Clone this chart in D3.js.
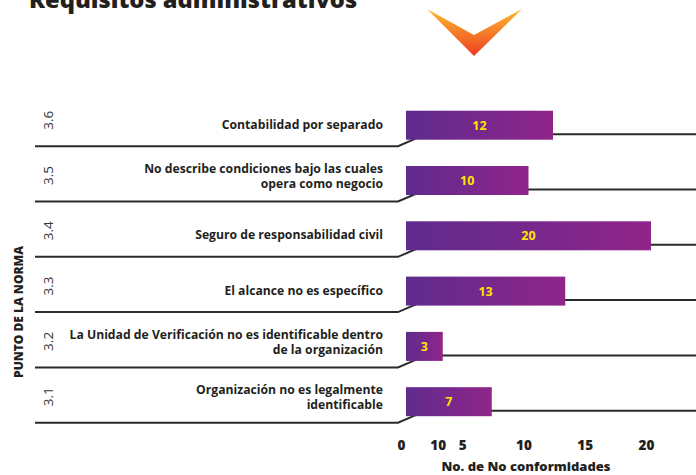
<!DOCTYPE html>
<html>
<head>
<meta charset="utf-8">
<script src="https://cdn.jsdelivr.net/npm/d3@7"></script>
<style>
  html, body { margin: 0; padding: 0; background: #fff; }
  svg { display: block; }
</style>
</head>
<body>
<svg id="chart" width="696" height="475"></svg>
<script>
// norm points, top to bottom
const codes = ["3.6", "3.5", "3.4", "3.3", "3.2", "3.1"];
const labels = [
  "Contabilidad por separado",
  "No describe condiciones bajo las cuales\nopera como negocio",
  "Seguro de responsabilidad civil",
  "El alcance no es específico",
  "La Unidad de Verificación no es identificable dentro\nde la organización",
  "Organización no es legalmente\nidentificable"
];
const values = [12, 10, 20, 13, 3, 7];
// the printed axis really reads 0 10 5 10 15 20
const tickValues = [0, 3, 5, 10, 15, 20];
const tickLabels = ["0", "10", "5", "10", "15", "20"];

const W = 696, H = 475;
const svg = d3.select("#chart");
const ink = "#231f20";
const font = "'Open Sans', Lato, sans-serif";

const rows = codes.map((c, i) => ({code: c, label: labels[i], value: values[i]}));

const x = d3.scaleLinear().domain([0, 20]).range([406, 651]);
const y = d3.scalePoint().domain(codes).range([125.2, 401.7]);
const barH = 29;

const defs = svg.append("defs");
const grad = defs.append("linearGradient").attr("id", "barGrad");
grad.append("stop").attr("offset", "0%").attr("stop-color", "#5e2b8d");
grad.append("stop").attr("offset", "100%").attr("stop-color", "#90258a");

const chev = defs.append("linearGradient").attr("id", "chevGrad")
  .attr("x1", 0).attr("y1", 0).attr("x2", 0).attr("y2", 1);
chev.append("stop").attr("offset", "0%").attr("stop-color", "#fdbb30");
chev.append("stop").attr("offset", "100%").attr("stop-color", "#ee3d23");

// title, cut off by the top edge as in the source
svg.append("text")
  .attr("x", 29).attr("y", 8)
  .attr("font-family", font).attr("font-weight", 800)
  .attr("font-size", 23.7).attr("fill", ink)
  .text("Requisitos administrativos");

// chevron ornament
svg.append("path")
  .attr("d", "M427,9 L474,56 L522,9 L474,35 Z")
  .attr("fill", "url(#chevGrad)");

// row rules: left run, slanted step, right run behind the bar
const line = d3.line();
svg.append("g").selectAll("path")
  .data(rows).join("path")
  .attr("d", d => {
    const c = y(d.code);
    return line([[35, c + 21], [398, c + 21], [426, c + 9], [W, c + 9]]);
  })
  .attr("fill", "none").attr("stroke", "#2b2b2b").attr("stroke-width", 2);

// bars
svg.append("g").selectAll("rect")
  .data(rows).join("rect")
  .attr("x", x(0))
  .attr("y", d => y(d.code) - barH / 2)
  .attr("width", d => x(d.value) - x(0))
  .attr("height", barH)
  .attr("fill", "url(#barGrad)");

// bar values
svg.append("g").selectAll("text")
  .data(rows).join("text")
  .attr("x", d => (x(0) + x(d.value)) / 2)
  .attr("y", d => y(d.code) + 4.5)
  .attr("text-anchor", "middle")
  .attr("font-family", font).attr("font-weight", 700).attr("font-size", 12.5)
  .attr("fill", "#ffe600")
  .text(d => d.value);

// category labels
const lab = svg.append("g").selectAll("text")
  .data(rows).join("text")
  .attr("text-anchor", "end")
  .attr("font-family", font).attr("font-weight", 700).attr("font-size", 12.2)
  .attr("fill", ink);
lab.each(function (d) {
  const parts = d.label.split("\n");
  const c = y(d.code);
  const base = parts.length > 1 ? [c - 7.5, c + 7.5] : [c + 3.5];
  d3.select(this).selectAll("tspan")
    .data(parts).join("tspan")
    .attr("x", 383)
    .attr("y", (p, i) => base[i])
    .text(p => p);
});

// norm codes, rotated
svg.append("g").selectAll("text")
  .data(rows).join("text")
  .attr("transform", d => `translate(53,${y(d.code) - 5}) rotate(-90)`)
  .attr("text-anchor", "middle")
  .attr("font-family", font).attr("font-weight", 400).attr("font-size", 13.5)
  .attr("fill", "#333")
  .text(d => d.code);

// y title
svg.append("text")
  .attr("transform", "translate(23,312) rotate(-90)")
  .attr("text-anchor", "middle")
  .attr("font-family", font).attr("font-weight", 800).attr("font-size", 12)
  .attr("fill", ink)
  .text("PUNTO DE LA NORMA");

// x axis (labels only)
const xAxis = d3.axisBottom(x)
  .tickValues(tickValues)
  .tickFormat((v, i) => tickLabels[i])
  .tickSize(0).tickPadding(0);
const ax = svg.append("g")
  .attr("transform", "translate(-5,440)")
  .call(xAxis);
ax.select(".domain").remove();
ax.selectAll("text")
  .attr("font-family", font).attr("font-weight", 800).attr("font-size", 13.5)
  .attr("fill", ink);

svg.append("text")
  .attr("x", 526).attr("y", 471)
  .attr("text-anchor", "middle")
  .attr("font-family", font).attr("font-weight", 800).attr("font-size", 13)
  .attr("fill", ink)
  .text("No. de No conformidades");
</script>
</body>
</html>
